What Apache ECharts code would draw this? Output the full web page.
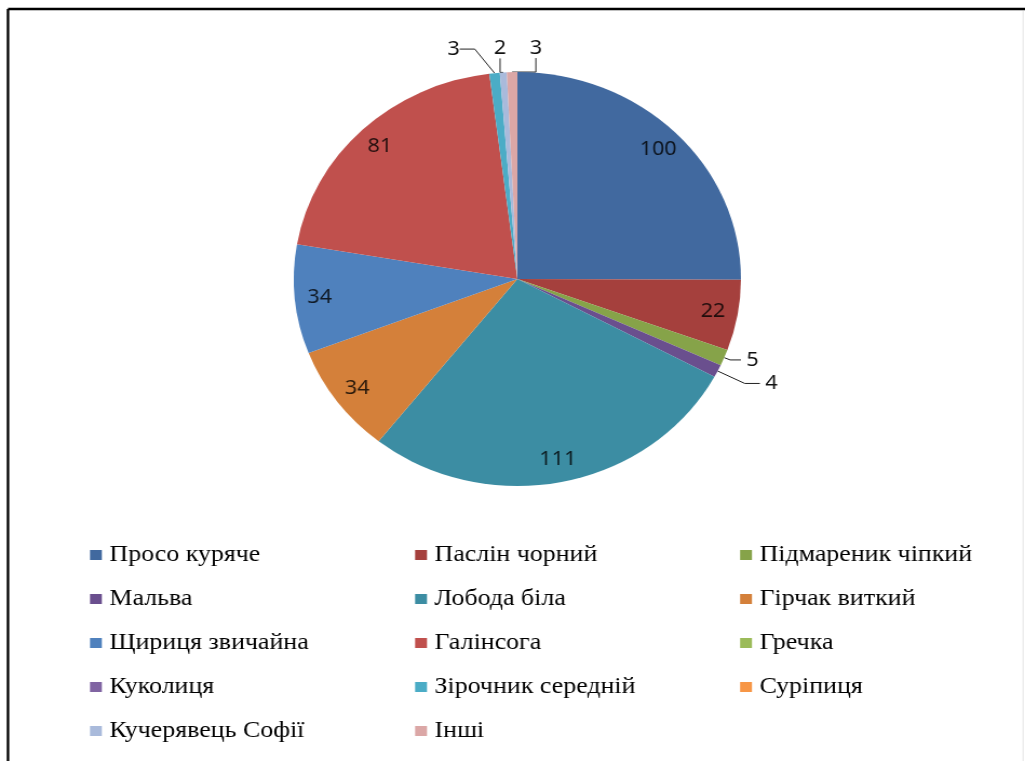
<!DOCTYPE html>
<html>
<head>
<meta charset="utf-8">
<script src="https://cdn.jsdelivr.net/npm/echarts@6/dist/echarts.min.js"></script>
<style>
html,body{margin:0;padding:0;background:#fff;overflow:hidden;}
#chart{width:949px;height:761px;transform:scaleX(1.0801);transform-origin:0 0;}
</style>
</head>
<body>
<div id="chart"></div>
<script>
var categories = ['Просо куряче','Паслін чорний','Підмареник чіпкий','Мальва','Лобода біла','Гірчак виткий','Щириця звичайна','Галінсога','Гречка','Куколиця','Зірочник середній','Суріпиця','Кучерявець Софії','Інші'];
var values = [100, 22, 5, 4, 111, 34, 34, 81, 0, 0, 3, 0, 2, 3];
var colors = ['#41699F','#A5403D','#86A349','#6A4F8E','#3C8DA3','#D4803A','#4F81BD','#C0504D','#9BBB59','#8064A2','#4BACC6','#F79646','#A9BADB','#DBA7A6'];
var legendCol1 = ['Просо куряче','Мальва','Щириця звичайна','Куколиця','Кучерявець Софії'];
var legendCol2 = ['Паслін чорний','Лобода біла','Галінсога','Зірочник середній','Інші'];
var legendCol3 = ['Підмареник чіпкий','Гірчак виткий','Гречка','Суріпиця'];

// label offsets (relative to the slice's leader-line anchor) for the tiny top slices
var topLabelOffsets = { 10: [-38, -24], 12: [-3, -24], 13: [22, -24] };
var lineLengths = { 2: [6, 10], 3: [28, 14] };

var mainData = categories.map(function (n, i) {
  var small = values[i] > 0 && values[i] < 10;
  var d = {
    name: n, value: values[i],
    itemStyle: { color: colors[i] },
    label: { show: small },
    labelLine: { show: small }
  };
  if (lineLengths[i]) { d.labelLine.length = lineLengths[i][0]; d.labelLine.length2 = lineLengths[i][1]; }
  return d;
});
var innerData = categories.map(function (n, i) {
  return {
    name: n, value: values[i],
    itemStyle: { color: 'rgba(0,0,0,0)' },
    label: { show: values[i] >= 10 }
  };
});
function legendData(list) {
  return list.map(function (n) {
    return { name: n, itemStyle: { color: colors[categories.indexOf(n)] } };
  });
}
var legendBase = {
  orient: 'vertical', top: 538, padding: 0, itemWidth: 11, itemHeight: 10, itemGap: 20,
  icon: 'rect', selectedMode: false,
  textStyle: { fontFamily: 'Liberation Serif', fontSize: 24, color: '#000', lineHeight: 24, padding: [0, 0, 0, 2] }
};
var chart = echarts.init(document.getElementById('chart'), null, { renderer: 'canvas' });
chart.setOption({
  animation: false,
  color: colors,
  graphic: [
    { type: 'line', shape: { x1: 7.4, y1: 9, x2: 949, y2: 9 }, style: { stroke: '#000', lineWidth: 2.5 } },
    { type: 'line', shape: { x1: 7.4, y1: 9, x2: 7.4, y2: 761 }, style: { stroke: '#000', lineWidth: 2.3 } },
    { type: 'line', shape: { x1: 947.2, y1: 11, x2: 947.2, y2: 761 }, style: { stroke: '#e4e4e4', lineWidth: 1 } }
  ],
  legend: [
    Object.assign({}, legendBase, { left: 83.3, top: 543, data: legendData(legendCol1) }),
    Object.assign({}, legendBase, { left: 384.3, top: 543, data: legendData(legendCol2) }),
    Object.assign({}, legendBase, { left: 685.2, top: 543, data: legendData(legendCol3) })
  ],
  series: [
    {
      type: 'pie', center: [479, 279], radius: 207, startAngle: 90, clockwise: true,
      avoidLabelOverlap: false, minShowLabelAngle: 0,
      itemStyle: { borderWidth: 0 },
      label: { position: 'outside', fontFamily: 'Noto Sans', fontSize: 20, color: '#111', formatter: '{c}' },
      labelLine: { length: 14, length2: 14, lineStyle: { color: '#222', width: 1 } },
      labelLayout: function (p) {
        var off = topLabelOffsets[p.dataIndex];
        if (!off || !p.labelLinePoints) return {};
        var a = p.labelLinePoints[0];
        return { x: a[0] + off[0], y: a[1] + off[1], align: 'center', verticalAlign: 'middle' };
      },
      emphasis: { disabled: true },
      data: mainData
    },
    {
      type: 'pie', center: [479, 279], radius: [155, 207], startAngle: 90, clockwise: true,
      silent: true, avoidLabelOverlap: false,
      label: { position: 'inside', fontFamily: 'Noto Sans', fontSize: 20, color: 'rgba(0,0,0,0.8)', formatter: '{c}' },
      labelLine: { show: false },
      emphasis: { disabled: true },
      data: innerData
    }
  ]
});
</script>
</body>
</html>
